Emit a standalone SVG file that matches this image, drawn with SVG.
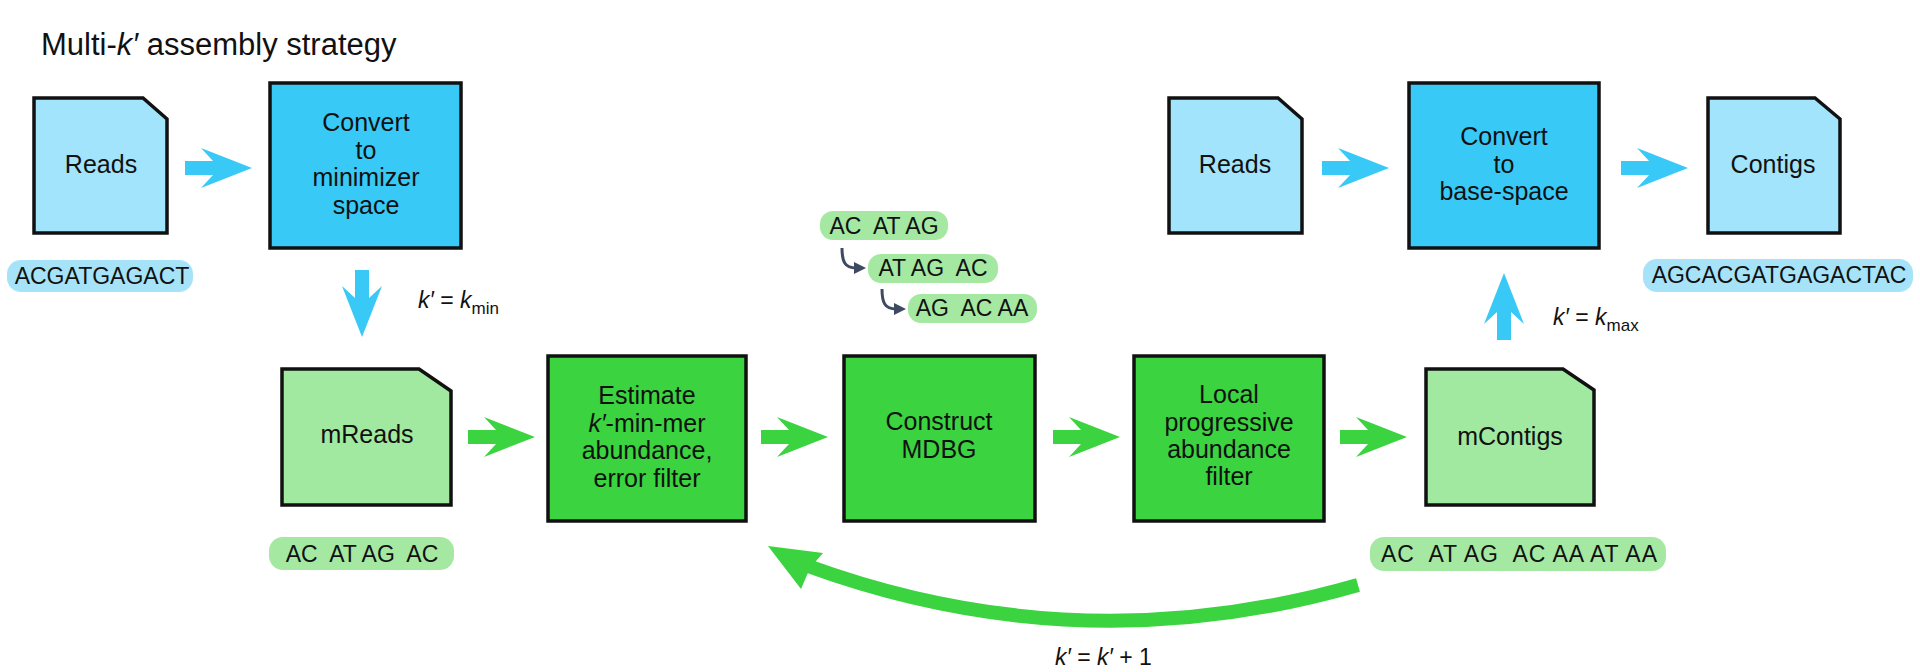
<svg xmlns="http://www.w3.org/2000/svg" xmlns:xlink="http://www.w3.org/1999/xlink" width="1920" height="672" viewBox="0 0 1920 672">
  <style>
    text { font-family: "Liberation Sans", Arial, sans-serif; fill: #111; }
    .title { font-size: 31px; }
    .lbl { font-size: 25px; text-anchor: middle; }
    .seq { font-size: 23px; text-anchor: middle; }
    .eq { font-size: 23px; }
    .sub { font-size: 17px; }
    .it { font-style: italic; }
    .box { stroke: #111; stroke-width: 3.5; stroke-linejoin: miter; }
    .blueDark { fill: #38c9f7; }
    .blueLight { fill: #a2e4fb; }
    .greenDark { fill: #3bd33f; }
    .greenLight { fill: #a1e9a0; }
    .pillBlue { fill: #a6e3f8; }
    .pillGreen { fill: #a5e8a2; }
    .hook { fill: none; stroke: #3e4a63; stroke-width: 3; }
  </style>
  <defs>
    <path id="arr" d="M -67 -7 H -39 L -51 -20 L 0 0 L -51 20 L -39 7 H -67 Z"/>
    <g id="hookArrow">
      <path class="hook" d="M 842 248 C 842 262 845 268 856 268"/>
      <polygon points="866,268 854,262 854,274" fill="#3e4a63"/>
    </g>
  </defs>

  <text class="title" x="41" y="55">Multi-<tspan class="it">k′</tspan> assembly strategy</text>

  <g id="reads1">
    <path class="box blueLight" d="M 34 98 H 143 L 167 119 V 233 H 34 Z"/>
    <text class="lbl" x="101" y="173">Reads</text>
  </g>
  <g id="seq-reads1">
    <rect class="pillBlue" x="7" y="260" width="186" height="32" rx="14"/>
    <text class="seq" x="102" y="284">ACGATGAGACT</text>
  </g>

  <g id="convert1">
    <rect class="box blueDark" x="270" y="83" width="191" height="165"/>
    <text class="lbl" x="366" y="131">Convert</text>
    <text class="lbl" x="366" y="159">to</text>
    <text class="lbl" x="366" y="186">minimizer</text>
    <text class="lbl" x="366" y="214">space</text>
  </g>

  <g id="mreads">
    <path class="box greenLight" d="M 282 369 H 419 L 451 391 V 505 H 282 Z"/>
    <text class="lbl" x="367" y="443">mReads</text>
  </g>
  <g id="seq-mreads">
    <rect class="pillGreen" x="269" y="537" width="185" height="33" rx="14"/>
    <text class="seq" x="362" y="562" xml:space="preserve">AC  AT AG  AC</text>
  </g>

  <g id="estimate">
    <rect class="box greenDark" x="548" y="356" width="198" height="165"/>
    <text class="lbl" x="647" y="404">Estimate</text>
    <text class="lbl" x="647" y="432"><tspan class="it">k′</tspan>-min-mer</text>
    <text class="lbl" x="647" y="459">abundance,</text>
    <text class="lbl" x="647" y="487">error filter</text>
  </g>

  <g id="construct">
    <rect class="box greenDark" x="844" y="356" width="191" height="165"/>
    <text class="lbl" x="939" y="430">Construct</text>
    <text class="lbl" x="939" y="458">MDBG</text>
  </g>

  <g id="kmers">
    <rect class="pillGreen" x="820" y="211" width="128" height="29" rx="13"/>
    <text class="seq" x="884" y="234" xml:space="preserve">AC  AT AG</text>
    <rect class="pillGreen" x="868" y="254" width="130" height="29" rx="13"/>
    <text class="seq" x="933" y="276" xml:space="preserve">AT AG  AC</text>
    <rect class="pillGreen" x="908" y="294" width="129" height="29" rx="13"/>
    <text class="seq" x="972" y="316" xml:space="preserve">AG  AC AA</text>
    <use xlink:href="#hookArrow"/>
    <use xlink:href="#hookArrow" transform="translate(40,41)"/>
  </g>

  <g id="local">
    <rect class="box greenDark" x="1134" y="356" width="190" height="165"/>
    <text class="lbl" x="1229" y="403">Local</text>
    <text class="lbl" x="1229" y="431">progressive</text>
    <text class="lbl" x="1229" y="458">abundance</text>
    <text class="lbl" x="1229" y="485">filter</text>
  </g>

  <g id="mcontigs">
    <path class="box greenLight" d="M 1426 369 H 1563 L 1594 390 V 505 H 1426 Z"/>
    <text class="lbl" x="1510" y="445">mContigs</text>
  </g>
  <g id="seq-mcontigs">
    <rect class="pillGreen" x="1370" y="537" width="296" height="34" rx="14"/>
    <text class="seq" x="1519" y="562" xml:space="preserve" textLength="276" lengthAdjust="spacing">AC  AT AG  AC AA AT AA</text>
  </g>

  <g id="reads2">
    <path class="box blueLight" d="M 1169 98 H 1278 L 1302 119 V 233 H 1169 Z"/>
    <text class="lbl" x="1235" y="173">Reads</text>
  </g>

  <g id="convert2">
    <rect class="box blueDark" x="1409" y="83" width="190" height="165"/>
    <text class="lbl" x="1504" y="145">Convert</text>
    <text class="lbl" x="1504" y="173">to</text>
    <text class="lbl" x="1504" y="200">base-space</text>
  </g>

  <g id="contigs">
    <path class="box blueLight" d="M 1708 98 H 1815 L 1840 119 V 233 H 1708 Z"/>
    <text class="lbl" x="1773" y="173">Contigs</text>
  </g>
  <g id="seq-contigs">
    <rect class="pillBlue" x="1643" y="259" width="270" height="33" rx="14"/>
    <text class="seq" x="1779" y="283">AGCACGATGAGACTAC</text>
  </g>

  <g id="connectors">
    <use xlink:href="#arr" class="blueDark" transform="translate(252,168)"/>
    <use xlink:href="#arr" class="blueDark" transform="translate(1389,168)"/>
    <use xlink:href="#arr" class="blueDark" transform="translate(1688,168)"/>
    <use xlink:href="#arr" class="blueDark" transform="translate(362,337) rotate(90)"/>
    <use xlink:href="#arr" class="blueDark" transform="translate(1504,273) rotate(-90)"/>
    <use xlink:href="#arr" class="greenDark" transform="translate(535,437)"/>
    <use xlink:href="#arr" class="greenDark" transform="translate(828,437)"/>
    <use xlink:href="#arr" class="greenDark" transform="translate(1120,437)"/>
    <use xlink:href="#arr" class="greenDark" transform="translate(1407,437)"/>
    <path d="M 1358 585 Q 1080 665 808 566" fill="none" stroke="#3bd33f" stroke-width="14"/>
    <polygon class="greenDark" points="768,546 823,553 810,568 801,589"/>
  </g>

  <text class="eq" x="418" y="308"><tspan class="it">k′</tspan> = <tspan class="it">k</tspan><tspan class="sub" dy="6">min</tspan></text>
  <text class="eq" x="1553" y="325"><tspan class="it">k′</tspan> = <tspan class="it">k</tspan><tspan class="sub" dy="6">max</tspan></text>
  <text class="eq" x="1055" y="665"><tspan class="it">k′</tspan> = <tspan class="it">k′</tspan> + 1</text>
</svg>
